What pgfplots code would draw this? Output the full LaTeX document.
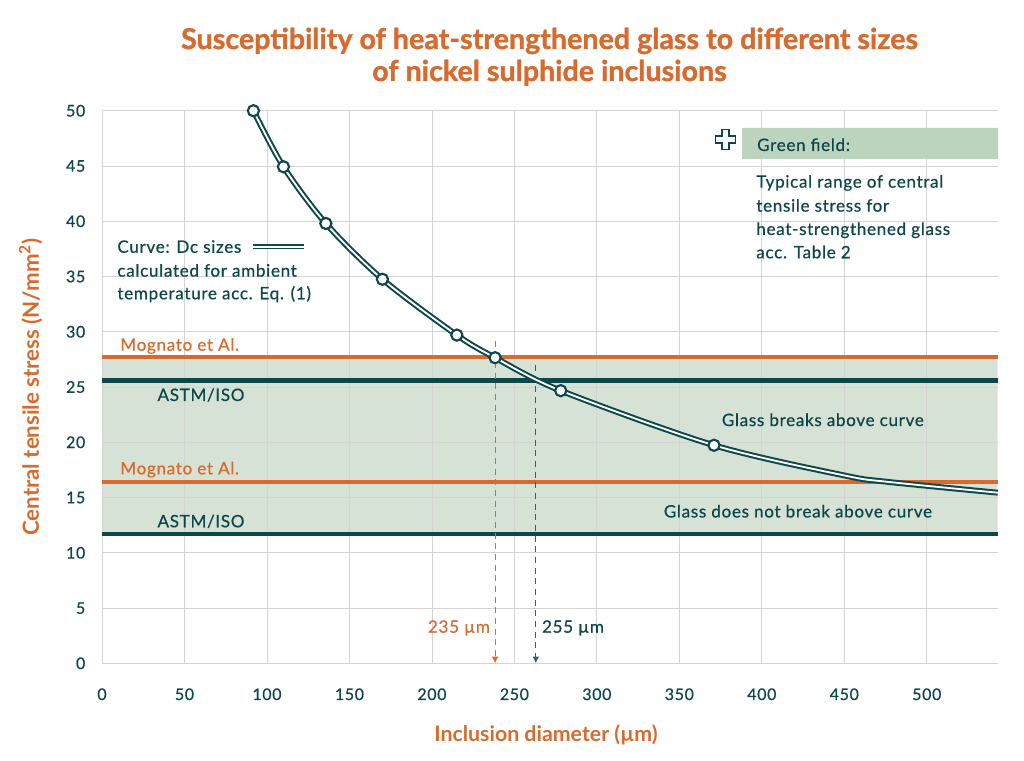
\documentclass[border=0pt]{standalone}
\usepackage{fontspec}
\setmainfont{Lato}
\newfontfamily\medfont{Lato}[FakeBold=0.6, LetterSpace=4]
\newfontfamily\heavyfont{Lato}[UprightFont=*-Bold, FakeBold=1.2]
\usepackage{pgfplots}
\pgfplotsset{compat=1.18}
\usetikzlibrary{arrows.meta}
\definecolor{myorange}{HTML}{D86A2E}
\definecolor{myteal}{HTML}{0D4749}
\definecolor{greenfield}{HTML}{D6E2D5}
\definecolor{legendgreen}{HTML}{BCD3BE}
\definecolor{gridgray}{HTML}{D3D3D3}
\begin{document}
\begin{tikzpicture}
\begin{axis}[
  set layers=standard,
  scale only axis,
  width=671.8pt, height=414.45pt,
  at={(76.5pt,72.5pt)}, anchor=south west,
  xmin=0, xmax=543, ymin=0, ymax=50,
  xtick={0,50,...,500}, ytick={0,5,...,50},
  grid=major,
  major grid style={draw=gridgray, line width=0.6pt},
  axis line style={draw=none},
  major tick length=0pt,
  clip=false,
  /pgf/number format/assume math mode=true,
  tick label style={font=\medfont\fontsize{12}{14}\selectfont, text=myteal},
  xticklabel style={anchor=base, yshift=-27.5pt},
  yticklabel style={anchor=east, xshift=-9pt},
]
% green field
\addplot[draw=none, fill=greenfield, on layer=axis background] coordinates {(0,11.7) (543,11.7) (543,27.7) (0,27.7) (0,11.7)};
% horizontal reference lines
\addplot[myorange, line width=3pt] coordinates {(0,27.7) (543,27.7)};
\addplot[myteal, line width=3.5pt] coordinates {(0,25.6) (543,25.6)};
\addplot[myorange, line width=3pt] coordinates {(0,16.4) (543,16.4)};
\addplot[myteal, line width=3.5pt] coordinates {(0,11.7) (543,11.7)};
% dashed arrows
\addplot[myorange, line width=0.9pt, dash pattern=on 4.5pt off 3.5pt, -{Latex[length=5pt,width=5pt]}] coordinates {(238.3,29.2) (238.3,0)};
\addplot[myteal!85!white, line width=0.9pt, dash pattern=on 4.5pt off 3.5pt, -{Latex[length=5pt,width=5pt]}] coordinates {(263,27.0) (263,0)};
% curve
\addplot[smooth, draw=myteal, double=white, line width=1.5pt, double distance=1.4pt] coordinates {
(91.8,50) (110,44.93) (135.7,39.8) (170,34.75) (215.1,29.7) (238.3,27.65) (278.1,24.67) (371,19.73) (450,17.0) (475.7,16.43) (543,15.44)};
\addplot[only marks, mark=*, mark size=4.2pt, mark options={fill=white, draw=myteal, line width=1.6pt}] coordinates {
(91.8,50) (110,44.93) (135.7,39.8) (170,34.75) (215.1,29.7) (238.3,27.65) (278.1,24.67) (371,19.73)};
% legend box
\addplot[draw=none, fill=legendgreen] coordinates {(388,45.64) (543.2,45.64) (543.2,48.44) (388,48.44) (388,45.64)};
\coordinate (cr) at (axis cs:377.9,47.4);
% curve legend symbol
\draw[myteal, double=white, line width=1.4pt, double distance=1.4pt] (axis cs:91.4,37.7) -- (axis cs:122.5,37.7);
% texts
\begin{scope}[every node/.style={font=\medfont\fontsize{12.8}{15}\selectfont, inner sep=0pt}]
\node[anchor=base west, text=myteal] at (axis cs:9.2,37.15) {Curve: Dc sizes};
\node[anchor=base west, text=myteal] at (axis cs:9.2,34.99) {calculated for ambient};
\node[anchor=base west, text=myteal] at (axis cs:9.2,32.94) {temperature acc. Eq. (1)};
\node[anchor=base west, text=myorange] at (axis cs:11.0,28.29) {Mognato et Al.};
\node[anchor=base west, text=myteal] at (axis cs:33.5,23.74) {ASTM/ISO};
\node[anchor=base west, text=myorange] at (axis cs:11.0,17.1) {Mognato et Al.};
\node[anchor=base west, text=myteal] at (axis cs:33.5,12.31) {ASTM/ISO};
\node[anchor=base, text=myteal] at (axis cs:437,21.47) {Glass breaks above curve};
\node[anchor=base, text=myteal] at (axis cs:421.9,13.2) {Glass does not break above curve};
\node[anchor=base east, text=myorange] at (axis cs:235.3,2.77) {235 µm};
\node[anchor=base west, text=myteal] at (axis cs:266.6,2.77) {255 µm};
\node[anchor=base west, text=myteal] at (axis cs:397,46.36) {Green field:};
\node[anchor=base west, text=myteal] at (axis cs:396.5,43.04) {Typical range of central};
\node[anchor=base west, text=myteal] at (axis cs:396.5,40.87) {tensile stress for};
\node[anchor=base west, text=myteal] at (axis cs:396.5,38.76) {heat-strengthened glass};
\node[anchor=base west, text=myteal] at (axis cs:396.5,36.65) {acc. Table 2};
\end{scope}
\end{axis}
% cross symbol
\draw[myteal, line width=1.1pt, line join=miter] ([shift={(-2.7pt,7.5pt)}]cr) -- ([shift={(2.7pt,7.5pt)}]cr) -- ([shift={(2.7pt,2.7pt)}]cr) -- ([shift={(7.5pt,2.7pt)}]cr) -- ([shift={(7.5pt,-2.7pt)}]cr) -- ([shift={(2.7pt,-2.7pt)}]cr) -- ([shift={(2.7pt,-7.5pt)}]cr) -- ([shift={(-2.7pt,-7.5pt)}]cr) -- ([shift={(-2.7pt,-2.7pt)}]cr) -- ([shift={(-7.5pt,-2.7pt)}]cr) -- ([shift={(-7.5pt,2.7pt)}]cr) -- ([shift={(-2.7pt,2.7pt)}]cr) -- cycle;
% titles
\node[anchor=base, text=myorange, font=\heavyfont\fontsize{21.5}{25}\selectfont, inner sep=0pt] at (412.1pt,533.25pt) {Susceptibility of heat-strengthened glass to different sizes};
\node[anchor=base, text=myorange, font=\heavyfont\fontsize{21.5}{25}\selectfont, inner sep=0pt] at (412.1pt,509.25pt) {of nickel sulphide inclusions};
\node[anchor=base, text=myorange, font=\fontsize{16}{19}\selectfont\bfseries, inner sep=0pt] at (409.5pt,13.7pt) {Inclusion diameter (µm)};
\node[rotate=90, text=myorange, font=\fontsize{16.7}{19}\selectfont\bfseries, inner sep=0pt] at (23pt,279.75pt) {Central tensile stress (N/mm\textsuperscript{2})};
\pgfresetboundingbox
\path (0,0) rectangle (768pt,570pt);
\end{tikzpicture}
\end{document}
